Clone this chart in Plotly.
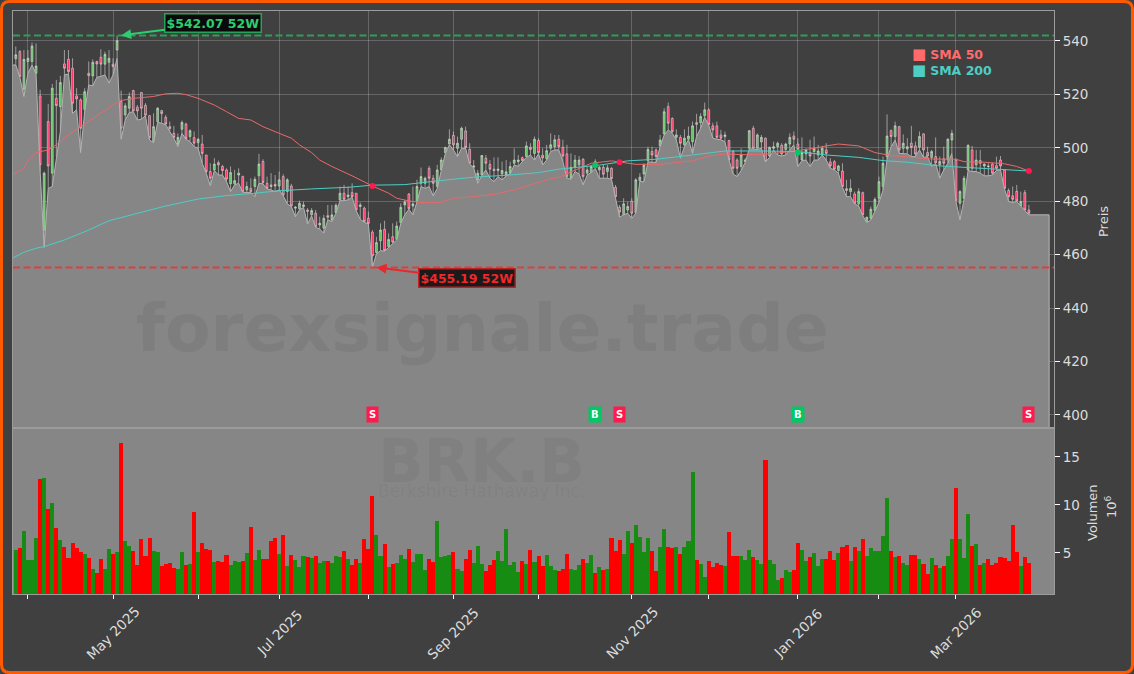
import plotly.graph_objects as go
from plotly.subplots import make_subplots

# prices and volume, one entry per trading day
opens = [
    533.3,536.0,521.9,532.3,532.3,527.9,519.4,469.2,509.8,490.5,
    518.5,515.4,531.4,533.1,529.8,519.4,517.9,514.4,527.9,526.9,
    532.3,533.9,531.3,532.0,531.3,536.6,517.3,512.3,514.8,521.4,
    515.2,520.7,515.9,512.0,502.3,509.8,513.9,511.4,507.9,505.4,
    501.4,506.9,508.9,504.2,503.8,501.9,501.4,497.3,491.1,491.7,
    494.4,493.0,491.7,486.5,486.5,489.8,489.2,484.2,484.8,485.5,
    489.5,494.9,486.7,486.1,486.3,485.7,489.2,483.6,485.7,477.4,
    477.2,478.0,476.7,474.9,475.5,471.1,469.9,474.6,473.0,475.7,
    480.5,483.0,481.7,483.2,483.0,478.0,477.4,473.6,468.4,460.8,
    465.2,469.5,463.0,466.7,465.7,472.0,478.6,482.7,478.2,479.8,
    486.7,486.7,492.3,488.6,485.5,491.7,498.2,501.4,504.6,499.8,
    503.2,506.3,499.4,492.7,488.0,489.8,496.1,493.8,492.0,491.5,
    490.2,489.8,490.5,494.2,494.8,496.3,496.7,500.2,497.9,502.7,
    497.2,495.9,499.8,500.4,503.2,500.2,497.7,488.6,492.7,493.6,
    495.7,490.5,490.7,494.8,491.7,492.7,491.1,492.3,485.2,477.7,
    475.0,476.7,480.0,475.7,487.7,490.2,495.2,498.6,499.2,500.7,
    505.2,515.4,511.0,503.9,503.9,501.1,503.2,502.3,509.4,509.4,
    512.0,514.2,508.2,508.2,504.8,504.2,502.7,498.6,495.4,493.0,
    494.8,499.8,507.3,499.8,502.2,503.6,496.9,499.8,500.4,500.9,
    499.4,501.4,504.4,501.4,495.4,497.7,498.2,498.6,497.3,497.7,
    499.2,494.7,494.8,491.5,491.3,484.7,483.6,482.7,479.0,483.2,
    472.4,473.6,476.5,481.1,485.5,496.7,506.4,504.2,507.9,499.8,
    499.6,501.7,500.7,500.2,505.2,498.2,496.4,496.7,493.6,495.9,
    495.4,502.9,495.4,479.2,481.1,491.7,499.2,493.6,495.2,493.2,
    493.2,493.9,493.3,495.4,491.7,484.0,482.0,483.7,478.2,483.2,476.7,
]
highs = [
    537.9,536.6,536.6,536.6,539.4,539.1,521.7,491.1,516.4,523.9,
    525.4,526.9,536.6,536.6,533.5,522.3,518.5,522.3,532.3,533.1,
    532.6,536.9,536.0,536.6,533.5,542.07,521.4,516.7,520.7,521.7,
    516.0,520.7,516.7,512.3,512.9,515.2,514.2,512.3,509.8,508.2,
    505.4,510.2,509.4,506.9,506.1,503.6,504.8,497.3,494.2,496.1,
    495.2,493.6,492.3,493.0,491.7,492.3,489.6,487.3,488.6,489.2,
    497.7,495.7,489.2,490.5,489.8,491.1,490.1,488.6,486.5,478.2,
    480.2,479.8,477.4,477.4,476.7,474.2,474.9,478.6,478.6,479.2,
    485.5,486.1,485.5,486.7,483.0,479.5,478.0,476.1,469.2,466.7,
    471.7,472.7,468.0,471.7,472.4,479.2,480.5,483.0,485.5,488.0,
    492.6,489.2,493.2,489.8,493.6,496.4,500.4,506.9,506.1,504.2,
    507.9,507.9,501.7,495.4,491.7,497.3,497.3,495.4,496.4,496.4,
    494.8,495.4,494.8,499.8,497.3,496.7,502.3,501.7,504.2,503.6,
    499.8,501.1,505.4,504.8,504.8,503.0,501.1,497.9,497.3,496.9,
    496.1,493.0,493.6,495.7,493.2,493.6,493.6,492.7,486.1,478.6,
    481.1,479.8,481.1,488.6,490.5,494.2,500.4,500.4,499.8,504.8,
    514.8,516.9,511.4,506.9,504.8,506.9,507.9,509.8,512.7,512.9,
    516.9,514.8,509.4,509.8,506.7,506.1,503.0,499.2,496.1,499.8,
    496.1,506.7,508.2,505.4,504.8,503.9,500.4,502.3,502.3,501.7,
    501.9,505.4,506.1,503.6,503.9,499.8,503.0,504.2,501.1,500.7,
    501.7,496.1,495.4,493.6,494.2,488.0,488.2,483.6,484.8,483.6,
    474.2,478.0,481.5,489.2,496.7,512.5,506.9,509.8,508.2,505.0,
    503.6,508.2,502.3,506.1,505.4,500.4,499.2,503.9,496.7,500.4,
    503.6,506.7,496.1,484.2,489.5,501.3,500.7,499.2,499.2,494.2,
    494.2,494.4,496.7,496.9,491.7,484.8,485.5,486.1,483.6,484.2,478.6,
]
lows = [
    531.0,526.4,519.2,527.9,531.0,527.6,491.1,462.7,484.8,485.5,
    496.7,506.1,527.3,527.6,512.9,514.2,498.2,513.5,523.5,523.2,
    526.4,526.7,527.3,524.2,527.3,533.5,503.2,510.4,513.2,513.5,
    510.4,510.7,512.0,502.9,501.9,509.5,509.2,508.6,506.1,503.6,
    500.4,505.4,503.2,502.3,500.4,499.8,494.2,490.5,485.8,491.5,
    489.8,489.8,487.3,483.6,486.1,486.7,483.3,483.2,483.3,481.7,
    486.7,486.5,484.6,484.2,483.6,484.2,482.0,479.0,478.0,474.2,
    476.7,477.7,471.5,474.5,470.2,469.6,468.0,473.0,472.4,475.5,
    480.2,480.2,480.5,481.5,476.5,473.2,472.1,471.5,455.19,460.3,
    461.5,461.3,462.8,464.2,465.5,471.7,474.9,477.0,474.9,479.7,
    485.5,484.8,485.5,482.0,484.8,491.5,497.9,501.1,499.2,496.7,
    499.8,499.8,493.9,492.5,486.7,489.6,491.7,488.6,487.3,489.2,
    488.0,489.5,490.2,493.6,493.0,494.8,496.4,497.3,495.4,497.7,
    493.6,495.4,498.6,499.2,499.2,494.8,488.6,488.2,491.1,490.2,
    486.1,489.8,490.7,492.3,488.6,488.6,488.6,488.2,481.5,474.0,
    474.9,475.5,473.6,475.5,487.5,487.2,494.7,494.7,494.5,500.4,
    504.8,506.7,505.4,503.0,496.1,500.4,503.0,497.9,504.2,507.3,
    511.4,508.4,503.6,503.2,503.0,502.3,495.4,490.2,489.2,491.5,
    494.5,499.6,499.6,499.4,499.8,494.7,496.4,499.2,497.3,496.9,
    497.3,499.2,501.1,493.0,495.2,495.4,493.0,495.4,495.4,497.3,
    495.4,492.3,491.7,490.5,485.2,481.7,481.7,479.0,478.2,474.6,
    472.0,473.0,476.1,479.5,484.0,495.7,500.4,502.9,497.9,497.7,
    497.7,496.7,496.7,499.2,496.4,496.7,493.0,494.2,488.6,491.7,
    494.2,497.9,479.9,473.0,480.7,491.5,491.1,491.1,490.5,489.5,
    489.5,489.8,491.5,491.7,484.5,479.9,479.5,479.9,478.0,476.5,474.9,
]
closes = [
    534.8,526.7,533.1,533.5,538.1,530.6,493.6,490.5,493.2,522.3,
    515.8,524.4,529.8,528.5,516.7,518.3,507.3,521.0,527.0,532.0,
    531.4,531.3,535.0,533.5,530.4,540.1,507.3,515.7,519.2,513.8,
    513.8,514.8,512.2,503.8,507.9,514.8,512.8,508.9,507.2,503.8,
    503.9,509.5,503.4,506.4,501.7,503.2,497.9,491.1,488.6,493.9,
    493.6,491.5,488.3,490.7,487.7,490.5,483.6,485.5,483.6,488.2,
    493.9,487.0,484.8,485.5,485.7,488.0,482.3,488.0,478.2,477.7,
    479.2,478.6,476.2,476.5,470.5,471.7,473.6,474.0,474.9,478.5,
    483.0,480.7,482.3,481.7,476.7,478.6,472.4,471.7,459.5,464.5,
    469.2,461.5,465.7,464.7,470.7,477.7,479.7,477.2,479.0,485.5,
    489.2,488.6,488.6,486.7,491.7,495.4,500.1,503.2,501.1,501.7,
    507.3,500.1,494.2,493.2,490.5,497.1,494.2,492.0,491.5,492.0,
    491.5,491.0,493.0,495.4,495.4,495.2,500.7,499.4,503.2,498.2,
    496.2,498.9,501.1,503.0,500.4,496.9,489.2,492.7,495.4,495.4,
    489.2,491.7,493.0,493.9,492.7,490.1,492.5,488.5,481.7,476.0,
    479.0,478.0,475.5,488.0,489.0,493.5,499.4,497.3,496.7,502.9,
    513.5,509.2,506.1,504.8,501.7,503.6,504.4,508.2,508.8,511.7,
    514.2,508.7,506.7,503.9,503.6,504.8,495.4,492.3,492.3,497.3,
    495.4,506.4,499.8,504.8,503.9,494.9,500.2,500.4,501.7,497.7,
    501.4,503.9,503.2,499.4,498.2,499.2,496.9,499.8,498.8,499.8,
    497.9,493.2,492.0,493.2,485.5,484.0,484.8,479.2,483.6,474.9,
    474.0,477.0,480.7,487.3,494.2,504.4,504.2,508.2,499.2,501.7,
    500.4,500.1,497.7,504.2,499.2,496.9,498.6,494.4,494.9,494.2,
    503.2,505.4,480.2,483.6,488.6,500.9,492.3,495.4,494.2,493.9,
    493.0,490.5,492.3,493.2,484.8,481.7,480.7,480.1,479.9,476.7,475.5,
]
volumes = [
    5.31,5.52,7.29,4.27,4.27,6.56,12.71,12.81,9.58,10.21,
    7.60,6.35,5.63,4.48,6.04,5.52,5.10,4.90,4.48,3.33,
    2.92,4.38,3.33,5.42,4.90,5.10,16.46,6.25,5.73,5.21,
    3.75,6.46,4.69,6.56,5.21,5.10,3.65,3.85,3.96,3.44,
    3.33,5.10,3.75,3.85,9.27,5.10,6.04,5.42,5.31,4.06,
    4.17,4.06,4.79,3.75,4.17,4.06,4.17,5.00,7.71,4.27,
    5.31,4.38,4.38,6.25,6.56,4.90,6.88,3.65,4.79,4.27,
    3.54,4.69,4.58,4.48,4.69,3.96,4.17,4.17,3.96,4.69,
    4.58,5.21,4.38,3.75,4.38,3.96,6.46,5.42,10.94,6.88,
    4.69,5.94,3.54,3.85,3.96,4.79,4.38,5.42,4.06,4.90,
    4.90,3.23,4.38,4.06,8.33,4.58,4.69,4.79,5.10,3.33,
    3.13,4.38,5.31,3.96,5.73,3.85,3.13,3.75,4.27,5.21,
    4.17,7.50,3.75,4.06,3.02,4.17,3.85,5.31,4.06,4.69,
    3.65,4.79,3.65,3.23,3.13,3.33,4.90,3.33,3.23,3.75,
    4.38,3.96,4.79,2.92,3.54,3.23,3.33,6.56,5.21,6.35,
    4.90,7.29,6.04,7.92,6.67,5.10,6.56,5.21,3.13,5.63,
    7.50,5.63,5.52,5.63,4.90,5.63,6.25,13.44,4.27,3.85,
    2.50,4.17,3.54,3.96,3.75,3.65,7.19,4.69,4.69,4.69,
    4.27,5.31,4.58,4.27,3.85,14.69,4.27,3.85,2.19,2.40,
    3.23,3.02,3.23,6.04,5.31,4.17,4.58,5.00,3.65,4.38,
    4.38,5.21,4.27,5.00,5.63,5.83,4.17,5.63,5.21,6.46,
    4.69,5.52,5.21,5.21,6.77,10.73,5.21,4.58,4.69,3.96,
    3.75,4.79,4.79,4.38,3.85,2.81,4.48,3.75,3.44,3.65,
    4.69,6.46,11.77,6.46,4.48,9.06,5.73,5.94,3.75,3.96,
    4.38,3.75,3.96,4.58,4.48,4.17,7.92,5.10,3.65,4.58,3.96,
]

sma50_days = [-1,2,3,5,8,10,13,16,19,22,25,26,29,34,37,40,42,45,49,52,55,58,61,65,68,70,73,75,78,83,88,92,94,97,
              100,105,108,113,118,123,128,131,134,138,142,147,149,153,159,163,167,171,175,180,185,189,193,197,
              200,203,208,212,216,221,226,232,234,239,244,247,250]
sma50 = [489.8,492.3,495.2,498.2,499.2,501.1,504.8,507.9,511.0,514.2,517.0,517.7,518.5,519.2,520.2,520.4,519.9,518.5,
         516.0,513.5,511.0,510.4,507.9,505.4,503.6,501.1,498.2,495.4,493.0,489.5,485.7,483.0,481.1,480.1,
         479.5,479.6,481.1,481.7,482.6,484.2,486.7,488.0,489.0,491.7,494.2,495.1,494.6,493.8,493.8,494.5,495.1,
         496.9,497.7,497.4,497.6,498.2,498.9,499.8,500.7,501.4,500.7,498.2,497.1,496.4,495.8,495.7,494.8,494.6,
         494.0,493.0,491.3]
sma200_days = [-1,2,5,7,12,18,23,31,37,45,52,59,65,73,82,88,96,104,113,121,129,134,139,144,151,158,167,175,184,193,
               200,203,208,214,220,228,236,245,250]
sma200 = [458.5,460.9,462.4,463.0,465.5,469.2,472.7,475.7,478.2,480.8,482.1,483.0,483.9,484.6,485.2,486.0,486.2,
          487.6,489.0,489.7,490.7,492.0,492.7,493.5,495.1,495.7,497.3,498.8,498.8,498.6,497.3,497.0,496.4,495.2,
          494.6,493.2,492.6,491.9,491.3]

signal_days = [88, 143, 149, 193, 250]
signal_types = ['S', 'B', 'S', 'B', 'S']
signal_prices = [485.7, 493.5, 494.6, 498.2, 491.3]

tick_days = [3, 24, 45, 65, 87, 108, 129, 152, 171, 193, 213, 232]
tick_labels = ['', 'May 2025', '', 'Jul 2025', '', 'Sep 2025', '', 'Nov 2025', '', 'Jan 2026', '', 'Mar 2026']

HIGH_52W = 542.07
LOW_52W = 455.19

BG = '#404040'
AREA = '#868686'
TXT = '#dcdcdc'
RED = '#ff1a4d'
GREEN = '#00c864'
WIDTH, HEIGHT = 1134, 674
ML, MR, MT, MB = 13, 80, 11, 80
PW = WIDTH - ML - MR
PH = HEIGHT - MT - MB


def px(x):
    return (x - ML) / PW


def py(y):
    return (HEIGHT - MB - y) / PH


days = list(range(len(closes)))
vol_colors = ['#168c12' if c >= o else '#ff0000' for o, c in zip(opens, closes)]

fig = make_subplots(rows=2, cols=1, shared_xaxes=True, vertical_spacing=0, row_heights=[417, 166])

# grey area follows the lows, runs on a few days past the last bar and then drops out of the panel
area_x = [-1] + days + [255, 255]
area_y = [lows[0]] + lows + [lows[-1], 0]
fig.add_trace(go.Scatter(x=area_x, y=area_y, mode='lines', fill='tozeroy', fillcolor=AREA,
                         line=dict(color='#b4b4b4', width=1)), row=1, col=1)
fig.add_trace(go.Candlestick(x=days, open=opens, high=highs, low=lows, close=closes,
                             whiskerwidth=0,
                             increasing=dict(line=dict(color='#dcdcdc', width=0.6), fillcolor='#5cc45c'),
                             decreasing=dict(line=dict(color='#dcdcdc', width=0.6), fillcolor='#ff2a60')),
              row=1, col=1)
fig.add_trace(go.Scatter(x=sma50_days, y=sma50, mode='lines', line=dict(color='#e86a6a', width=1)), row=1, col=1)
fig.add_trace(go.Scatter(x=sma200_days, y=sma200, mode='lines', line=dict(color='#4ecdc4', width=1)), row=1, col=1)
fig.add_trace(go.Scatter(x=signal_days, y=signal_prices, mode='markers',
                         marker=dict(size=6, color=[GREEN if t == 'B' else RED for t in signal_types])),
              row=1, col=1)
fig.add_trace(go.Bar(x=days, y=volumes, marker=dict(color=vol_colors, line=dict(width=0)), width=1.0), row=2, col=1)

fig.add_hline(y=HIGH_52W, line=dict(color='#2e9e58', width=2, dash='7px,3.5px'), row=1, col=1)
fig.add_hline(y=LOW_52W, line=dict(color='#d94040', width=2, dash='7px,3.5px'), row=1, col=1)

# grey panel behind the volume bars
fig.add_shape(type='rect', xref='x2 domain', yref='y2 domain', x0=0, x1=1, y0=0, y1=1,
              fillcolor=AREA, line=dict(width=0), layer='below')

# rounded orange frame around the whole picture
l, r, t, b = px(1.5), px(WIDTH - 1.5), py(1.5), py(HEIGHT - 1.5)
cx, cy = 8 / PW, 8 / PH
frame = (f'M {l + cx} {t} L {r - cx} {t} Q {r} {t} {r} {t - cy} L {r} {b + cy} Q {r} {b} {r - cx} {b} '
         f'L {l + cx} {b} Q {l} {b} {l} {b + cy} L {l} {t - cy} Q {l} {t} {l + cx} {t} Z')
fig.add_shape(type='path', path=frame, xref='paper', yref='paper', line=dict(color='#ff5a00', width=3))

FONT = 'DejaVu Sans'
SQUARE = '<span style="font-size:15px">■</span>'
notes = [
    dict(text='forexsignale.trade', x=px(482), y=py(328), font=dict(size=66.5, color='rgba(0,0,0,0.06)', family=FONT, weight='bold')),
    dict(text='BRK.B', x=px(481), y=py(461), font=dict(size=60, color='rgba(0,0,0,0.045)', family=FONT, weight='bold')),
    dict(text='Berkshire Hathaway Inc.', x=px(481), y=py(491), font=dict(size=17, color='rgba(0,0,0,0.05)', family=FONT)),
    dict(text=SQUARE + ' <b>SMA 50</b>', x=px(910), y=py(54), xanchor='left', font=dict(size=12.5, color='#ff6b6b', family=FONT)),
    dict(text=SQUARE + ' <b>SMA 200</b>', x=px(910), y=py(70), xanchor='left', font=dict(size=12.5, color='#4ecdc4', family=FONT)),
    dict(text='Preis', x=px(1103), y=py(222), textangle=-90, font=dict(size=13, color=TXT, family=FONT)),
    dict(text='Volumen', x=px(1092), y=py(513), textangle=-90, font=dict(size=13, color=TXT, family=FONT)),
    dict(text='10<sup>6</sup>', x=px(1111), y=py(507), textangle=-90, font=dict(size=13, color=TXT, family=FONT)),
]
for day, label in zip(tick_days, tick_labels):
    if label:
        notes.append(dict(text=label, x=day, xref='x2', y=py(633), textangle=-45,
                          font=dict(size=13.8, color=TXT, family=FONT)))
for day, kind in zip(signal_days, signal_types):
    notes.append(dict(text='<b>%s</b>' % kind, x=day, xref='x', y=400, yref='y',
                      bgcolor=GREEN if kind == 'B' else RED, borderpad=2,
                      font=dict(size=10, color='white', family=FONT)))
for note in notes:
    note.setdefault('xref', 'paper')
    note.setdefault('yref', 'paper')
    note.setdefault('xanchor', 'center')
    note.setdefault('yanchor', 'middle')
    note.setdefault('showarrow', False)
    fig.add_annotation(**note)

fig.add_annotation(text='<b>$%.2f 52W</b>' % HIGH_52W, x=26, y=HIGH_52W, xref='x', yref='y',
                   ax=92, ay=-12, showarrow=True, arrowhead=2, arrowsize=1, arrowwidth=2, arrowcolor='#2ecc71',
                   bgcolor='#0a0a0a', bordercolor='#2ca05a', borderwidth=1.5, borderpad=1,
                   font=dict(size=12.5, color='#2ecc71', family=FONT))
fig.add_annotation(text='<b>$%.2f 52W</b>' % LOW_52W, x=89, y=LOW_52W, xref='x', yref='y',
                   ax=91, ay=11, showarrow=True, arrowhead=2, arrowsize=1, arrowwidth=2, arrowcolor='#e8282d',
                   bgcolor='#1a1a1a', bordercolor='#c42020', borderwidth=1.5, borderpad=1,
                   font=dict(size=12.5, color='#f02828', family=FONT))

LINE = '#9c9c9c'
xrange = [-0.69, 256.2]
fig.update_xaxes(range=xrange, tickmode='array', tickvals=tick_days, ticktext=['' for _ in tick_days], zeroline=False,
                 showline=True, linecolor=LINE, mirror=True, rangeslider=dict(visible=False))
fig.update_xaxes(showgrid=True, gridcolor='rgba(255,255,255,0.2)', ticks='', row=1, col=1)
fig.update_xaxes(showgrid=False, ticks='outside', ticklen=4, tickcolor='white', row=2, col=1)
fig.update_yaxes(side='right', showline=True, linecolor=LINE, mirror=True, ticks='outside', ticklen=5,
                 tickcolor='white', tickfont=dict(size=13.5, color=TXT, family=FONT), zeroline=False)
fig.update_yaxes(range=[395.1, 551.2], tickmode='array', tickvals=[400, 420, 440, 460, 480, 500, 520, 540],
                 gridcolor='rgba(255,255,255,0.2)', row=1, col=1)
fig.update_yaxes(range=[0.73, 18], tickmode='array', tickvals=[5, 10, 15], showgrid=False, row=2, col=1)

fig.update_layout(width=WIDTH, height=HEIGHT, margin=dict(l=ML, r=MR, t=MT, b=MB),
                  paper_bgcolor=BG, plot_bgcolor=BG, showlegend=False, bargap=0, boxgap=0.35,
                  hovermode=False, font=dict(family=FONT, color=TXT))

fig.write_html('out.html', config=dict(displayModeBar=False),
               post_script="document.body.style.margin='0';document.body.style.overflow='hidden';")
